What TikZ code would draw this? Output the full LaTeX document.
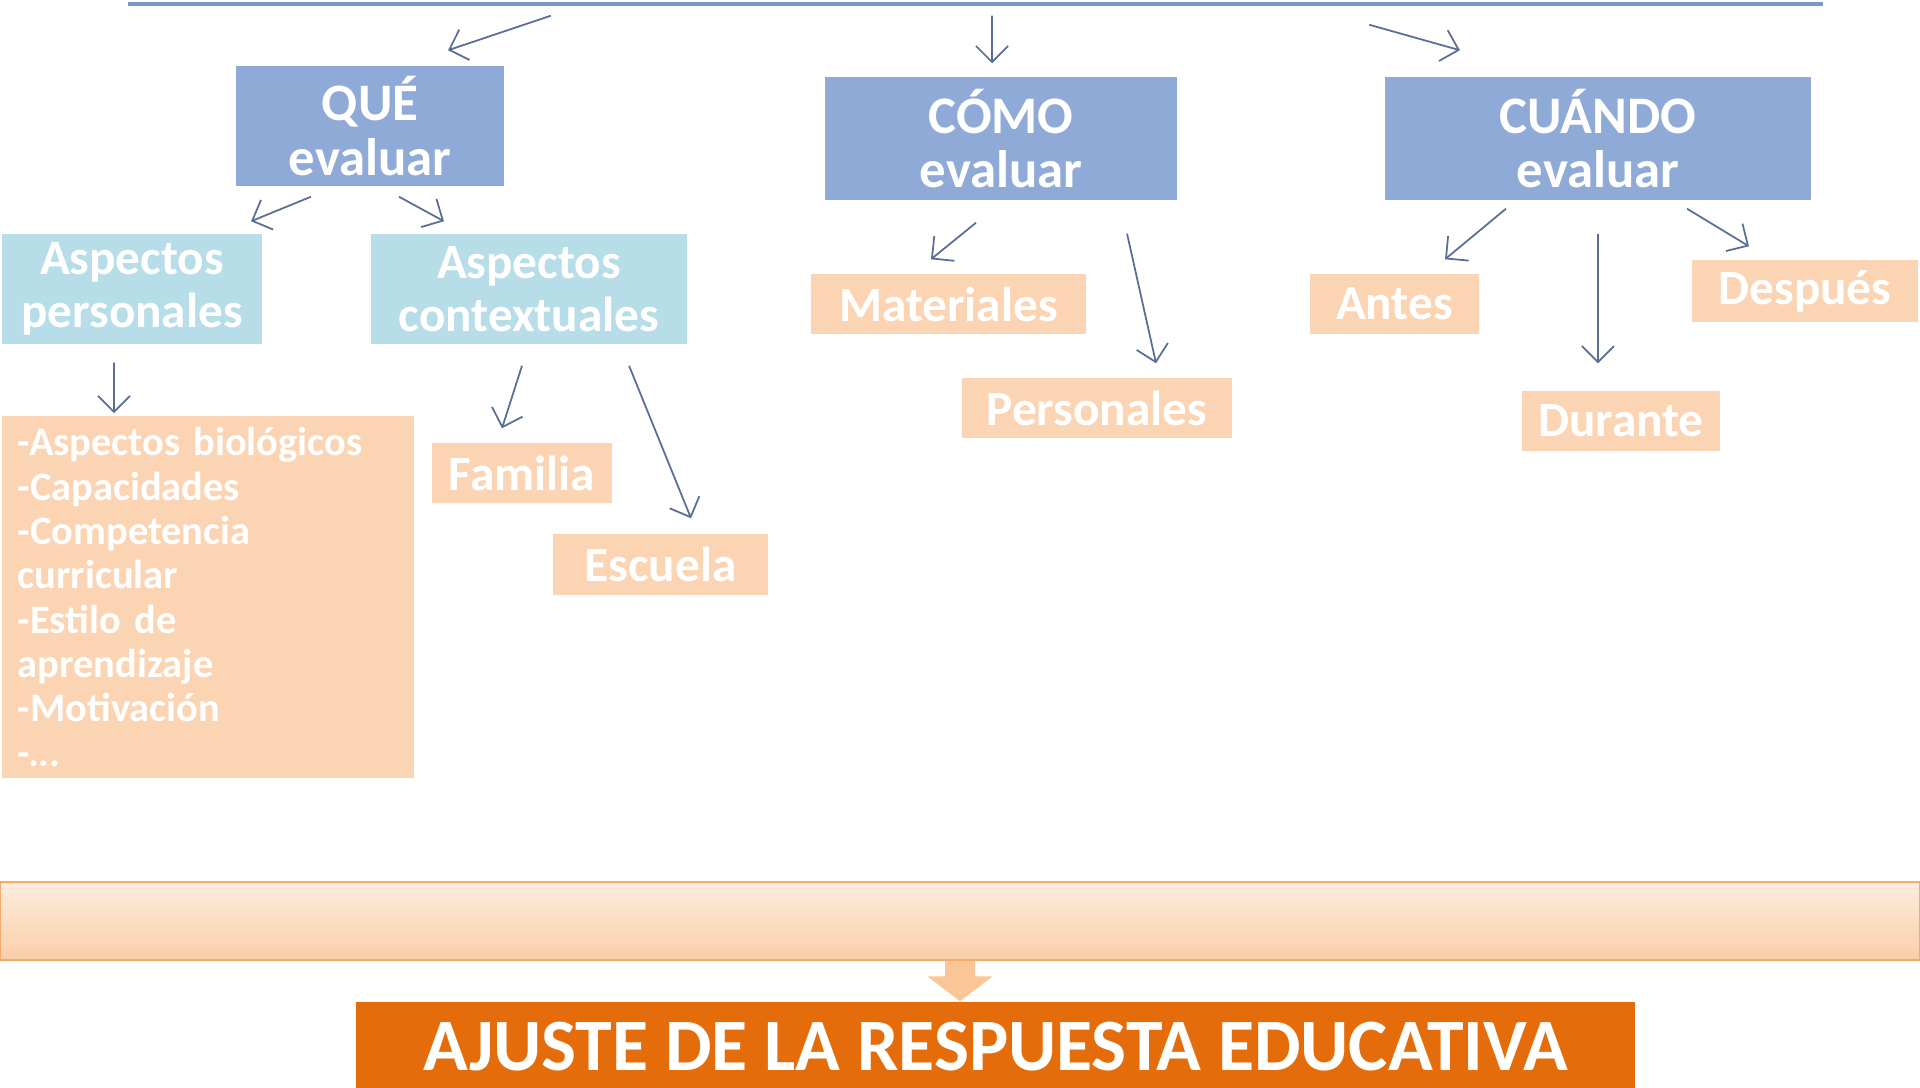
\documentclass[tikz,border=0pt]{standalone}
\usepackage{fontspec}
\setmainfont{Carlito}
\usetikzlibrary{positioning,arrows.meta}

\definecolor{headblue}{RGB}{143,170,214}
\definecolor{subblue}{RGB}{183,221,232}
\definecolor{peach}{RGB}{251,212,180}
\definecolor{arrowblue}{RGB}{88,110,148}
\definecolor{topblue}{RGB}{122,152,200}
\definecolor{barTop}{RGB}{253,236,222}
\definecolor{barBot}{RGB}{250,206,168}
\definecolor{barEdge}{RGB}{245,170,110}
\definecolor{ajuste}{RGB}{228,108,10}

\begin{document}
\begin{tikzpicture}[x=0.01cm,y=-0.01cm]
\tikzstyle{head}=[rectangle, fill=headblue, text=white, align=center, inner sep=0pt, font=\fontsize{15}{15.5}\selectfont\bfseries]
\tikzstyle{sub}=[rectangle, fill=subblue, text=white, align=center, inner sep=0pt, font=\fontsize{14}{15}\selectfont\bfseries]
\tikzstyle{item}=[rectangle, fill=peach, text=white, inner sep=0pt, font=\fontsize{14}{15}\selectfont\bfseries]
\tikzstyle{connect}=[-{Straight Barb[length=1.6mm,width=3.2mm]}, line width=0.5pt, draw=arrowblue]
\useasboundingbox (0,0) rectangle (1920,1088);

  \node[rectangle, fill=white, minimum width=16.93cm, minimum height=1cm] (Top) at (975.5,-47) {};
  \draw[topblue, line width=1.1pt] (Top.south west) -- (Top.south east);

  \node[head, minimum width=2.68cm, minimum height=1.20cm] (Que) at (370,126) {QUÉ\\evaluar};
  \node[head, minimum width=3.52cm, minimum height=1.23cm] (Como) at (1001,138.5) {CÓMO\\evaluar};
  \node[head, minimum width=4.26cm, minimum height=1.23cm] (Cuando) at (1598,138.5) {CUÁNDO\\evaluar};

  \node[sub, minimum width=2.60cm, minimum height=1.10cm] (AspPer) at (132,289) {Aspectos\\personales};
  \node[sub, minimum width=3.16cm, minimum height=1.10cm] (AspCon) at (529,289) {Aspectos\\contextuales};

  \node[item, minimum width=4.12cm, minimum height=3.62cm, inner xsep=0.16cm, text width=3.80cm, align=left, font=\fontsize{11.5}{12.6}\selectfont\bfseries] (Lista) at (208,597)
    {-Aspectos biológicos\\-Capacidades\\-Competencia\\curricular\\-Estilo de\\aprendizaje\\-Motivación\\-...};
  \node[item, minimum width=1.80cm, minimum height=0.60cm] (Familia) at (522,473) {Familia};
  \node[item, minimum width=2.15cm, minimum height=0.61cm] (Escuela) at (660.5,564.5) {Escuela};

  \node[item, minimum width=2.75cm, minimum height=0.60cm] (Materiales) at (948.5,304) {Materiales};
  \node[item, minimum width=2.70cm, minimum height=0.60cm] (Personales) at (1097,408) {Personales};

  \node[item, minimum width=1.69cm, minimum height=0.60cm] (Antes) at (1394.5,304) {Antes};
  \node[item, minimum width=1.98cm, minimum height=0.60cm] (Durante) at (1621,421) {Durante};
  \node[item, minimum width=2.26cm, minimum height=0.62cm] (Despues) at (1805,291) {Después};

  \node[rectangle, top color=barTop, bottom color=barBot, draw=barEdge, line width=0.6pt, minimum width=19.18cm, minimum height=0.78cm] (Barra) at (960,921) {};
  \node[rectangle, fill=ajuste, text=white, minimum width=12.79cm, minimum height=0.90cm, font=\fontsize{21}{22}\selectfont\bfseries] (Ajuste) at (995.5,1047) {AJUSTE DE LA RESPUESTA EDUCATIVA};

  % from the top box
  \draw[connect] ([xshift=-4.245cm,yshift=-0.12cm]Top.south) -- ([xshift=0.78cm,yshift=0.15cm]Que.north);
  \draw[connect] ([xshift=0.165cm,yshift=-0.12cm]Top.south) -- ([xshift=-0.09cm,yshift=0.13cm]Como.north);
  \draw[connect] ([xshift=3.935cm,yshift=-0.21cm]Top.south) -- ([xshift=-1.38cm,yshift=0.26cm]Cuando.north);

  % que
  \draw[connect] ([xshift=-0.59cm,yshift=-0.10cm]Que.south) -- ([xshift=1.19cm,yshift=0.12cm]AspPer.north);
  \draw[connect] ([xshift=0.29cm,yshift=-0.10cm]Que.south) -- ([xshift=-0.85cm,yshift=0.12cm]AspCon.north);
  \draw[connect] ([xshift=-0.18cm,yshift=-0.18cm]AspPer.south) -- ([xshift=-0.94cm,yshift=0.02cm]Lista.north);
  \draw[connect] ([xshift=-0.07cm,yshift=-0.21cm]AspCon.south) -- ([xshift=-0.20cm,yshift=0.14cm]Familia.north);
  \draw[connect] ([xshift=1.00cm,yshift=-0.21cm]AspCon.south) -- ([xshift=0.305cm,yshift=0.15cm]Escuela.north);

  % como
  \draw[connect] ([xshift=-0.25cm,yshift=-0.22cm]Como.south) -- ([xshift=-0.175cm,yshift=0.14cm]Materiales.north);
  \draw[connect] ([xshift=1.26cm,yshift=-0.33cm]Como.south) -- ([xshift=0.59cm,yshift=0.14cm]Personales.north);

  % cuando
  \draw[connect] ([xshift=-0.92cm,yshift=-0.08cm]Cuando.south) -- ([xshift=0.505cm,yshift=0.14cm]Antes.north);
  \draw[connect] ([yshift=-0.33cm]Cuando.south) -- ([xshift=-0.23cm,yshift=0.27cm]Durante.north);
  \draw[connect] ([xshift=0.89cm,yshift=-0.08cm]Cuando.south) -- ([xshift=-0.56cm,yshift=0.13cm]Despues.north);

  \draw[line width=0.30cm, draw=barBot!90!orange, -{Triangle[length=0.25cm,width=0.64cm]}] (Barra.south) -- (Barra.south |- Ajuste.north);

\end{tikzpicture}
\end{document}
